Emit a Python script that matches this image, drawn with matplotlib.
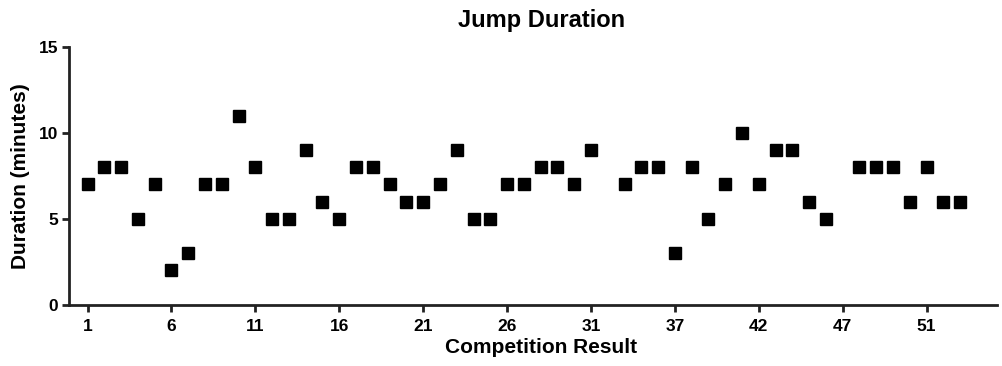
import numpy as np
from matplotlib import pyplot as plt

plt.rcParams['font.family'] = ['Liberation Sans', 'DejaVu Sans']
plt.rcParams['font.weight'] = 'bold'

# Data: one value per competition position (nan = no result)
durations = [7, 8, 8, 5, 7, 2, 3, 7, 7, 11,
             8, 5, 5, 9, 6, 5, 8, 8, 7, 6,
             6, 7, 9, 5, 5, 7, 7, 8, 8, 7,
             9, np.nan, 7, 8, 8, 3, 8, 5, 7, 10,
             7, 9, 9, 6, 5, np.nan, 8, 8, 8, 6,
             8, 6, 6]
tick_labels = ['1', '6', '11', '16', '21', '26', '31', '37', '42', '47', '51']
y_ticks = [0, 5, 10, 15]

positions = np.arange(len(durations))

fig = plt.figure(figsize=(10.02, 3.66), dpi=100)
ax = fig.add_axes([0.069, 0.167, 0.926, 0.705])

ax.plot(positions, durations, 's', color='black', markersize=8.3, linestyle='none')

ax.set_xlim(-1.1, 54.2)
ax.set_ylim(0, 15)
ax.set_xticks(positions[::5])
ax.set_xticklabels(tick_labels)
ax.set_yticks(y_ticks)

for side in ['top', 'right']:
    ax.spines[side].set_visible(False)
for side in ['left', 'bottom']:
    ax.spines[side].set_linewidth(2)
    ax.spines[side].set_color('#222222')
ax.tick_params(width=2, length=5, labelsize=12.5, color='#222222')
ax.tick_params(axis='x', pad=5)
ax.tick_params(axis='y', pad=3)

ax.set_title('Jump Duration', fontsize=17, fontweight='bold', pad=14, x=0.509)
ax.set_xlabel('Competition Result', fontsize=15, fontweight='bold')
ax.xaxis.set_label_coords(0.509, -0.13)
ax.set_ylabel('Duration (minutes)', fontsize=15, fontweight='bold', labelpad=6)

plt.savefig('out.png', dpi=100)
